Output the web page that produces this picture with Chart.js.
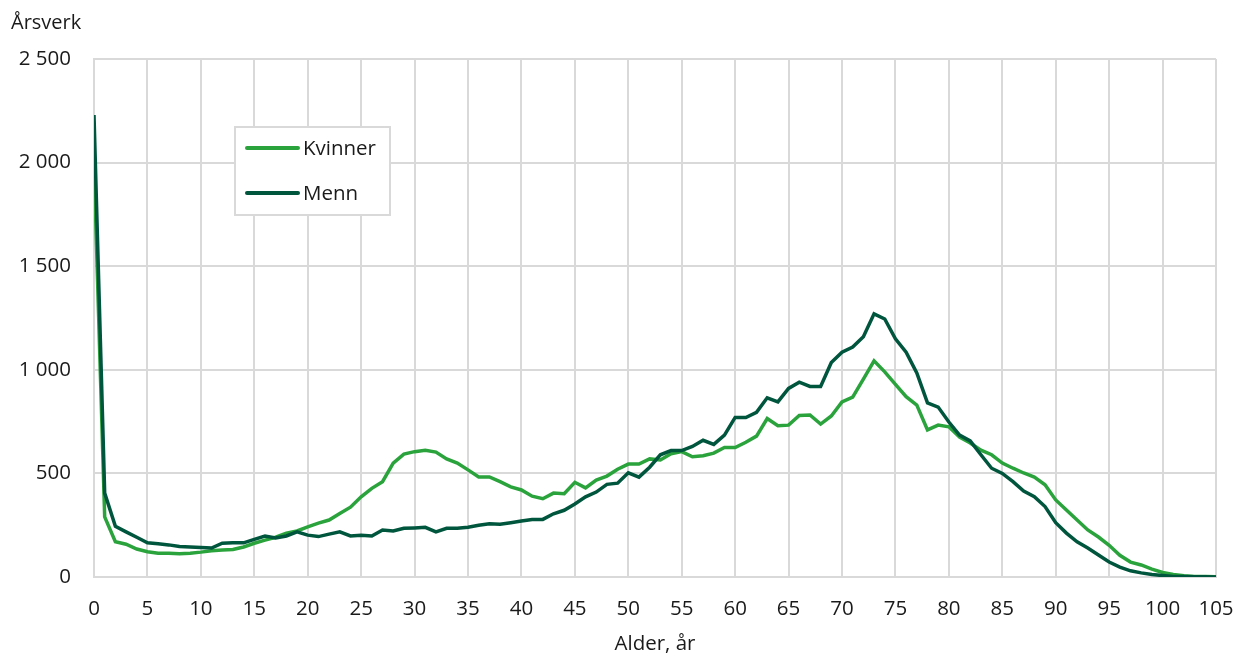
<!DOCTYPE html>
<html>
<head>
<meta charset="utf-8">
<script src="https://cdn.jsdelivr.net/npm/chart.js@4.4.1/dist/chart.umd.min.js"></script>
<style>
  html, body { margin: 0; padding: 0; background: #ffffff; }
  #wrap { width: 1235px; height: 656px; position: relative; }
</style>
</head>
<body>
<div id="wrap"><canvas id="c" width="1235" height="656"></canvas></div>
<script>
const ages = [0,1,2,3,4,5,6,7,8,9,10,11,12,13,14,15,16,17,18,19,20,21,22,23,24,25,26,27,28,29,30,31,32,33,34,35,36,37,38,39,40,41,42,43,44,45,46,47,48,49,50,51,52,53,54,55,56,57,58,59,60,61,62,63,64,65,66,67,68,69,70,71,72,73,74,75,76,77,78,79,80,81,82,83,84,85,86,87,88,89,90,91,92,93,94,95,96,97,98,99,100,101,102,103,104,105];

const kvinner = [2000,290,170,158,135,122,115,115,112,115,120,127,130,133,145,163,178,192,212,222,242,260,275,307,337,387,428,460,550,593,605,612,603,570,550,517,483,483,460,435,420,390,378,405,402,457,430,468,487,520,545,545,570,565,595,605,580,585,598,625,625,650,680,765,730,733,780,782,738,777,845,868,955,1043,990,930,870,830,710,733,725,675,647,612,590,550,525,502,482,445,372,323,275,227,193,153,105,72,58,38,22,12,6,3,2,1];

const menn = [2230,405,245,218,192,165,160,155,147,145,142,140,163,165,165,182,198,188,198,218,202,195,207,218,198,202,198,227,222,235,237,240,218,235,235,240,250,257,255,262,270,278,278,305,322,352,387,410,447,453,503,482,530,590,610,610,630,660,640,685,770,770,795,865,845,910,940,920,920,1035,1085,1110,1160,1270,1245,1150,1085,985,840,820,748,685,657,590,525,500,460,415,388,340,262,212,170,140,106,72,48,30,20,12,7,3,2,1,1,0];

const seriesNames = ['Kvinner', 'Menn'];
const yTitle = 'Årsverk';
const xTitle = 'Alder, år';

const FONT = '"Open Sans", "Noto Sans", sans-serif';
const TEXT = '#1a1a1a';
const GRID = '#d9d9d9';
const C_K = '#2aa33c';
const C_M = '#00553d';

function pts(vals) { return ages.map((a, i) => ({ x: a, y: vals[i] })); }

const overlay = {
  id: 'overlay',
  afterDraw(chart) {
    const ctx = chart.ctx;
    ctx.save();
    ctx.font = '20px ' + FONT;
    ctx.fillStyle = TEXT;
    ctx.textBaseline = 'middle';
    ctx.textAlign = 'left';
    ctx.fillText(yTitle, 11, 23);
    ctx.fillStyle = '#ffffff';
    ctx.fillRect(235, 127, 155, 88);
    ctx.strokeStyle = GRID;
    ctx.lineWidth = 2;
    ctx.strokeRect(235, 127, 155, 88);
    const ds = chart.data.datasets;
    const rows = [148, 193];
    ds.forEach((d, i) => {
      const y = rows[i];
      ctx.strokeStyle = d.borderColor;
      ctx.lineWidth = 4;
      ctx.lineCap = 'round';
      ctx.beginPath();
      ctx.moveTo(247, y);
      ctx.lineTo(298, y);
      ctx.stroke();
      ctx.fillStyle = TEXT;
      ctx.font = '20.5px ' + FONT;
      ctx.fillText(d.label, 303, y + 1);
    });
    ctx.restore();
  }
};

new Chart(document.getElementById('c'), {
  type: 'line',
  data: {
    datasets: [
      { label: seriesNames[0], data: pts(kvinner), borderColor: C_K, backgroundColor: C_K, borderWidth: 3.5, pointRadius: 0, tension: 0, order: 1 },
      { label: seriesNames[1], data: pts(menn), borderColor: C_M, backgroundColor: C_M, borderWidth: 3.5, pointRadius: 0, tension: 0, order: 0 }
    ]
  },
  options: {
    responsive: false,
    animation: false,
    devicePixelRatio: 1,
    layout: { padding: { top: 59, right: 19, left: 0, bottom: 0 } },
    plugins: { legend: { display: false }, tooltip: { enabled: false }, title: { display: false } },
    scales: {
      x: {
        type: 'linear', min: 0, max: 105,
        afterFit: s => { s.height = 79; s.paddingLeft = 0; s.paddingRight = 0; },
        ticks: { stepSize: 5, padding: 20, color: TEXT, font: { family: FONT, size: 20.5 }, maxRotation: 0, autoSkip: false },
        grid: { color: GRID, lineWidth: 2, drawTicks: false },
        border: { color: GRID, width: 2 },
        title: { display: true, text: xTitle, color: TEXT, font: { family: FONT, size: 20.5 }, padding: { top: 0, bottom: 0 } }
      },
      y: {
        min: 0, max: 2500,
        afterFit: s => { s.width = 94; s.paddingTop = 0; s.paddingBottom = 0; },
        ticks: { stepSize: 500, padding: 23, color: TEXT, font: { family: FONT, size: 20.5 },
          callback: v => String(v).replace(/\B(?=(\d{3})+(?!\d))/g, ' ') },
        grid: { color: GRID, lineWidth: 2, drawTicks: false },
        border: { color: GRID, width: 2 }
      }
    }
  },
  plugins: [overlay]
});
</script>
</body>
</html>
